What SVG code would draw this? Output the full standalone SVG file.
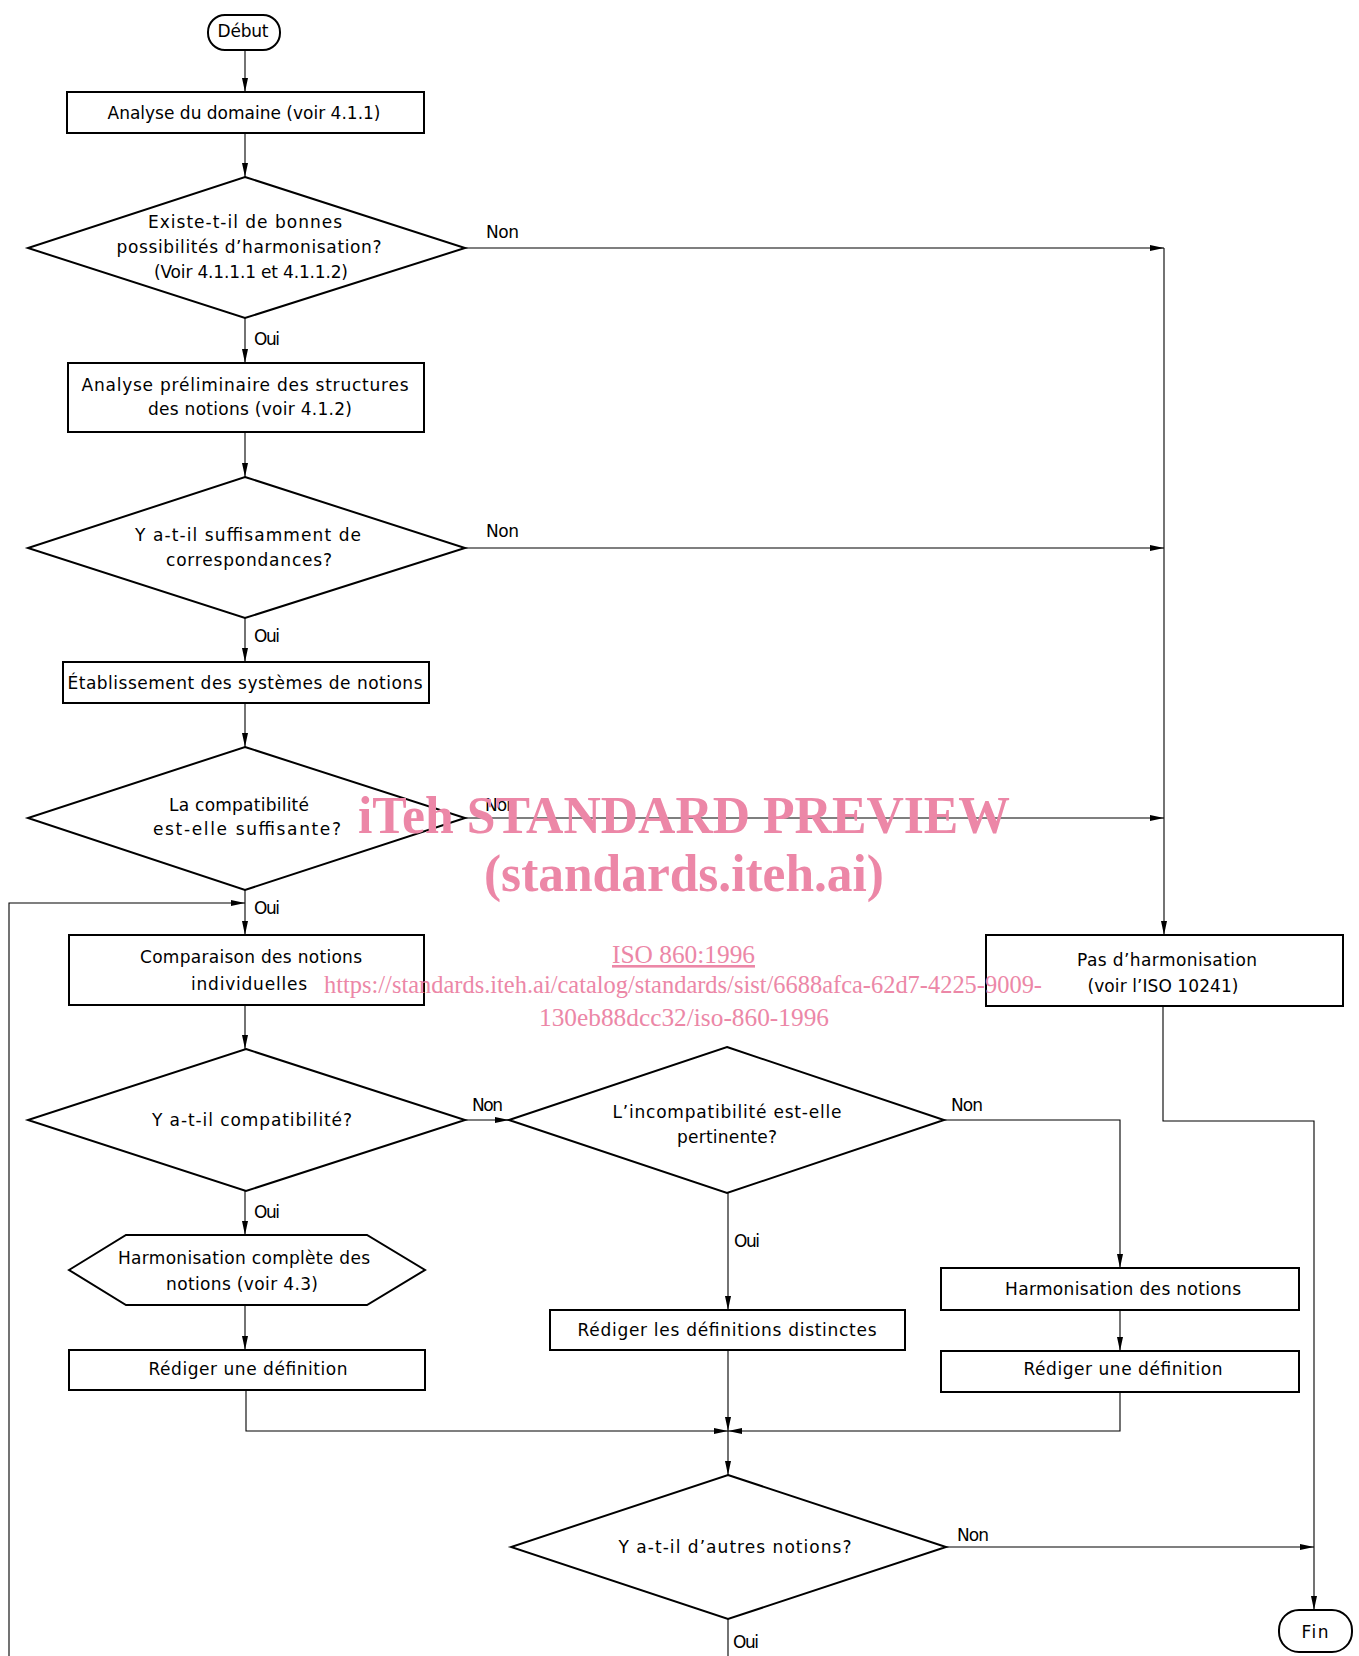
<svg xmlns="http://www.w3.org/2000/svg" width="1359" height="1656" viewBox="0 0 1359 1656">
<style>
.n{fill:#fff;stroke:#000;stroke-width:2}
.c{fill:none;stroke:#000;stroke-width:1.1}
.t{font-family:"DejaVu Sans","Liberation Sans",sans-serif;font-size:17px;fill:#000;text-anchor:middle}
.l{font-family:"DejaVu Sans","Liberation Sans",sans-serif;font-size:17px;fill:#000}
.w{font-family:"Liberation Serif","Times New Roman",serif;fill:#ec87a7}
.wb{font-weight:bold;font-size:53px}
.ws{font-size:26px}
</style>
<defs>
<marker id="a" markerUnits="userSpaceOnUse" markerWidth="14" markerHeight="8" refX="14" refY="4" orient="auto">
<path d="M0,1 L14,4 L0,7 z" fill="#000"/>
</marker>
</defs>
<rect width="1359" height="1656" fill="#fff"/>
<g id="connectors">
<path class="c" d="M245,50 V92" marker-end="url(#a)"/>
<path class="c" d="M245,133 V177" marker-end="url(#a)"/>
<path class="c" d="M245,318 V363" marker-end="url(#a)"/>
<path class="c" d="M465,248 H1164" marker-end="url(#a)"/>
<path class="c" d="M245,432 V477" marker-end="url(#a)"/>
<path class="c" d="M245,618 V662" marker-end="url(#a)"/>
<path class="c" d="M465,548 H1164" marker-end="url(#a)"/>
<path class="c" d="M245,703 V747" marker-end="url(#a)"/>
<path class="c" d="M465,818 H1164" marker-end="url(#a)"/>
<path class="c" d="M1164,248 V935" marker-end="url(#a)"/>
<path class="c" d="M245,890 V935" marker-end="url(#a)"/>
<path class="c" d="M9,1656 V903 H245" marker-end="url(#a)"/>
<path class="c" d="M245,1005 V1049" marker-end="url(#a)"/>
<path class="c" d="M465,1120 H509" marker-end="url(#a)"/>
<path class="c" d="M245,1191 V1235" marker-end="url(#a)"/>
<path class="c" d="M245,1305 V1350" marker-end="url(#a)"/>
<path class="c" d="M246,1390 V1431 H728" marker-end="url(#a)"/>
<path class="c" d="M728,1193 V1310" marker-end="url(#a)"/>
<path class="c" d="M728,1350 V1431" marker-end="url(#a)"/>
<path class="c" d="M944,1120 H1120 V1268" marker-end="url(#a)"/>
<path class="c" d="M1120,1310 V1351" marker-end="url(#a)"/>
<path class="c" d="M1120,1392 V1431 H728" marker-end="url(#a)"/>
<path class="c" d="M728,1431 V1475" marker-end="url(#a)"/>
<path class="c" d="M946,1547 H1314" marker-end="url(#a)"/>
<path class="c" d="M1163,1006 V1121 H1314 V1610" marker-end="url(#a)"/>
<path class="c" d="M728,1619 V1656"/>
</g>
<g id="labels">
<text class="l" x="486" y="238" textLength="33">Non</text>
<text class="l" x="486" y="537" textLength="33">Non</text>
<text class="l" x="485" y="811" textLength="32">Non</text>
<text class="l" x="254" y="345" textLength="26">Oui</text>
<text class="l" x="254" y="642" textLength="26">Oui</text>
<text class="l" x="254" y="914" textLength="26">Oui</text>
<text class="l" x="472" y="1111" textLength="31">Non</text>
<text class="l" x="951" y="1111" textLength="32">Non</text>
<text class="l" x="254" y="1218" textLength="26">Oui</text>
<text class="l" x="734" y="1247" textLength="26">Oui</text>
<text class="l" x="957" y="1541" textLength="32">Non</text>
<text class="l" x="733" y="1648" textLength="26">Oui</text>
</g>
<g id="debut">
<rect class="n" x="208" y="15" width="72" height="35" rx="17"/>
<text class="t" x="243" y="37" textLength="51">Début</text>
</g>
<g id="analyse-domaine">
<rect class="n" x="67" y="92" width="357" height="41"/>
<text class="t" x="244" y="119" textLength="273">Analyse du domaine (voir 4.1.1)</text>
</g>
<g id="d-possibilites">
<polygon class="n" points="245,177 465,248 245,318 28,248"/>
<text class="t" x="245" y="228" textLength="194">Existe-t-il de bonnes</text>
<text class="t" x="249" y="253" textLength="265">possibilités d’harmonisation?</text>
<text class="t" x="251" y="278" textLength="194">(Voir 4.1.1.1 et 4.1.1.2)</text>
</g>
<g id="analyse-preliminaire">
<rect class="n" x="68" y="363" width="356" height="69"/>
<text class="t" x="245" y="391" textLength="327">Analyse préliminaire des structures</text>
<text class="t" x="250" y="415" textLength="204">des notions (voir 4.1.2)</text>
</g>
<g id="d-correspondances">
<polygon class="n" points="245,477 465,548 245,618 28,548"/>
<text class="t" x="248" y="541" textLength="226">Y a-t-il suffisamment de</text>
<text class="t" x="249" y="566" textLength="166">correspondances?</text>
</g>
<g id="etablissement">
<rect class="n" x="63" y="662" width="366" height="41"/>
<text class="t" x="245" y="689" textLength="355">Établissement des systèmes de notions</text>
</g>
<g id="d-compatibilite-suffisante">
<polygon class="n" points="245,747 465,818 245,890 28,818"/>
<text class="t" x="239" y="811" textLength="140">La compatibilité</text>
<text class="t" x="247" y="835" textLength="188">est-elle suffisante?</text>
</g>
<g id="comparaison">
<rect class="n" x="69" y="935" width="355" height="70"/>
<text class="t" x="251" y="963" textLength="222">Comparaison des notions</text>
<text class="t" x="249" y="990" textLength="116">individuelles</text>
</g>
<g id="pas-harmonisation">
<rect class="n" x="986" y="935" width="357" height="71"/>
<text class="t" x="1167" y="966" textLength="180">Pas d’harmonisation</text>
<text class="t" x="1163" y="992" textLength="151">(voir l’ISO 10241)</text>
</g>
<g id="d-compatibilite">
<polygon class="n" points="246,1049 465,1120 246,1191 28,1120"/>
<text class="t" x="252" y="1126" textLength="200">Y a-t-il compatibilité?</text>
</g>
<g id="d-incompatibilite">
<polygon class="n" points="727,1047 944,1120 727,1193 509,1120"/>
<text class="t" x="727" y="1118" textLength="229">L’incompatibilité est-elle</text>
<text class="t" x="727" y="1143" textLength="100">pertinente?</text>
</g>
<g id="harmonisation-complete">
<polygon class="n" points="69,1270 126,1235 367,1235 425,1270 367,1305 126,1305"/>
<text class="t" x="244" y="1264" textLength="252">Harmonisation complète des</text>
<text class="t" x="242" y="1290" textLength="152">notions (voir 4.3)</text>
</g>
<g id="rediger-gauche">
<rect class="n" x="69" y="1350" width="356" height="40"/>
<text class="t" x="248" y="1375" textLength="199">Rédiger une définition</text>
</g>
<g id="rediger-distinctes">
<rect class="n" x="550" y="1310" width="355" height="40"/>
<text class="t" x="727" y="1336" textLength="299">Rédiger les définitions distinctes</text>
</g>
<g id="harmonisation-notions">
<rect class="n" x="941" y="1268" width="358" height="42"/>
<text class="t" x="1123" y="1295" textLength="236">Harmonisation des notions</text>
</g>
<g id="rediger-droite">
<rect class="n" x="941" y="1351" width="358" height="41"/>
<text class="t" x="1123" y="1375" textLength="199">Rédiger une définition</text>
</g>
<g id="d-autres-notions">
<polygon class="n" points="728,1475 946,1547 728,1619 511,1547"/>
<text class="t" x="735" y="1553" textLength="233">Y a-t-il d’autres notions?</text>
</g>
<g id="fin">
<rect class="n" x="1279" y="1610" width="73" height="42" rx="20"/>
<text class="t" x="1315" y="1638" textLength="27">Fin</text>
</g>
<g id="watermark">
<text class="w wb" x="358" y="833" textLength="652" lengthAdjust="spacingAndGlyphs">iTeh STANDARD PREVIEW</text>
<text class="w wb" x="484" y="891" textLength="400" lengthAdjust="spacingAndGlyphs">(standards.iteh.ai)</text>
<text class="w ws" x="612" y="963" textLength="143" lengthAdjust="spacingAndGlyphs" text-decoration="underline">ISO 860:1996</text>
<text class="w ws" x="324" y="993" textLength="718" lengthAdjust="spacingAndGlyphs">https://standards.iteh.ai/catalog/standards/sist/6688afca-62d7-4225-9009-</text>
<text class="w ws" x="539" y="1026" textLength="290" lengthAdjust="spacingAndGlyphs">130eb88dcc32/iso-860-1996</text>
</g>
</svg>
